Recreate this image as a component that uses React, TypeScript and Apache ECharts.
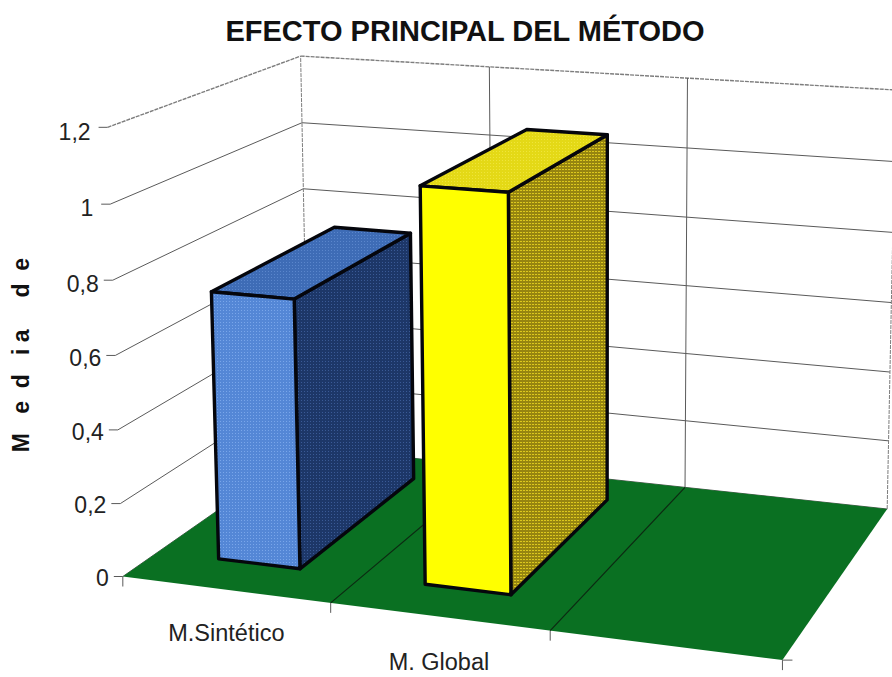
import React, { useEffect, useRef } from "react";
import * as echarts from "echarts";

const TITLE = "EFECTO PRINCIPAL DEL MÉTODO";
const VALUE_AXIS_NAME = "M   e  d   i a     d  e";
const categories = ["M.Sintético", "M. Global", ""];
const categoryLabelShift = [
  [1, 43],
  [0, 45],
  [0, 0],
];
const means = [0.735, 1.06];
const valueTicks = [0, 0.2, 0.4, 0.6, 0.8, 1, 1.2];
const tickLabels = ["0", "0,2", "0,4", "0,6", "0,8", "1", "1,2"];

const WIDTH = 892;
const HEIGHT = 677;
const Y_MAX = 1.2;
const BAR_HALF = 0.2;
const BAR_FRONT = 0.172;
const BAR_BACK = 0.848;
const FONT = '"Liberation Sans", Arial, sans-serif';

// Camera calibration: world (band, value, depth) -> page position of the box corners.
const calibration: number[][] = [
  [0, 0, 0, 125, 575],
  [1, 0, 0, 331, 603],
  [2, 0, 0, 549, 631],
  [3, 0, 0, 783, 661],
  [3, 0, 1, 888, 509],
  [0, 0, 1, 306, 447],
  [0, 0.6, 0, 116, 356],
  [0, 1.2, 0, 105, 127],
  [0, 1.2, 1, 301, 57],
  [1, 1.2, 1, 491, 67],
  [2, 1.2, 1, 691, 78],
  [3, 1.2, 1, 892, 89],
];

function solveCamera(rows: number[][]): number[] {
  const n = 11;
  const a: number[][] = Array.from({ length: n }, () => new Array(n + 1).fill(0));
  const addRow = (r: number[], b: number) => {
    for (let i = 0; i < n; i++) {
      for (let j = 0; j < n; j++) a[i][j] += r[i] * r[j];
      a[i][n] += r[i] * b;
    }
  };
  for (const [x, y, z, u, v] of rows) {
    addRow([x, y, z, 1, 0, 0, 0, 0, -u * x, -u * y, -u * z], u);
    addRow([0, 0, 0, 0, x, y, z, 1, -v * x, -v * y, -v * z], v);
  }
  for (let c = 0; c < n; c++) {
    let p = c;
    for (let r = c + 1; r < n; r++) if (Math.abs(a[r][c]) > Math.abs(a[p][c])) p = r;
    [a[c], a[p]] = [a[p], a[c]];
    for (let r = 0; r < n; r++) {
      if (r === c) continue;
      const f = a[r][c] / a[c][c];
      for (let k = c; k <= n; k++) a[r][k] -= f * a[c][k];
    }
  }
  return a.map((row, i) => row[n] / row[i]);
}

const cam = solveCamera(calibration);
const project = (x: number, y: number, z: number): number[] => {
  const w = cam[8] * x + cam[9] * y + cam[10] * z + 1;
  return [
    (cam[0] * x + cam[1] * y + cam[2] * z + cam[3]) / w,
    (cam[4] * x + cam[5] * y + cam[6] * z + cam[7]) / w,
  ];
};

// The hidden grid fills the page, so its scales give band and value positions.
const toWorld = (api: any, band: number, value: number): number[] => {
  const [gx, gy] = api.coord([band, value]);
  return [(gx / WIDTH) * categories.length, ((HEIGHT - gy) / HEIGHT) * Y_MAX];
};

function stipple(base: string, dot: string, dotWidth = 1): any {
  const c = document.createElement("canvas");
  c.width = 3;
  c.height = 3;
  const g = c.getContext("2d")!;
  g.fillStyle = base;
  g.fillRect(0, 0, 3, 3);
  g.fillStyle = dot;
  g.fillRect(1, 1, dotWidth, 1);
  return { image: c, repeat: "repeat" };
}

const line = (a: number[], b: number[], stroke: string, lineWidth = 1, lineDash?: number[]) => ({
  type: "line",
  shape: { x1: a[0], y1: a[1], x2: b[0], y2: b[1] },
  style: { stroke, lineWidth, lineDash, fill: null },
  silent: true,
});

export default function App() {
  const ref = useRef<HTMLDivElement>(null);
  useEffect(() => {
    const chart = echarts.init(ref.current!, null, { renderer: "svg", width: WIDTH, height: HEIGHT });
    const skins = [
      {
        front: stipple("#5487d6", "#79a6ea"),
        top: stipple("#3e6cb6", "#5a86cc"),
        side: stipple("#1d3768", "#3a5a96"),
      },
      {
        front: "#ffff00",
        top: stipple("#e4d916", "#efe53a"),
        side: stipple("#968510", "#dcc81e", 2),
      },
    ];
    chart.setOption({
      animation: false,
      backgroundColor: "#ffffff",
      title: {
        text: TITLE,
        left: 460,
        top: 11,
        textAlign: "center",
        textStyle: { fontFamily: FONT, fontSize: 29, fontWeight: "bold", color: "#111111" },
      },
      grid: { left: 0, right: 0, top: 0, bottom: 0 },
      xAxis: { type: "category", data: categories, show: false },
      yAxis: { type: "value", min: 0, max: Y_MAX, show: false },
      graphic: [
        {
          type: "text",
          x: 21,
          y: 355,
          rotation: Math.PI / 2,
          style: {
            text: VALUE_AXIS_NAME,
            font: `bold 23px ${FONT}`,
            fill: "#111111",
            align: "center",
            verticalAlign: "middle",
          },
        },
      ],
      series: [
        {
          // Wall gridlines, value ticks and their labels
          type: "custom",
          coordinateSystem: "cartesian2d",
          silent: true,
          clip: false,
          z: 1,
          data: valueTicks.map((v, i) => [0, v, i]),
          renderItem: (_: any, api: any) => {
            const [, y] = toWorld(api, 0, api.value(1));
            const i = api.value(2);
            const isTop = i === valueTicks.length - 1;
            const front = project(0, y, 0);
            const corner = project(0, y, 1);
            const end = project(3, y, 1);
            const colour = isTop ? "#7d7d7d" : "#5a5a5a";
            const dash = isTop ? [4, 1] : undefined;
            return {
              type: "group",
              children: [
                line(front, corner, colour, isTop ? 1.4 : 1, dash),
                line(corner, end, colour, isTop ? 1.4 : 1, dash),
                line([front[0] - 9, front[1]], front, "#5a5a5a"),
                {
                  type: "text",
                  x: front[0] - (y >= 1 ? 17 : 14),
                  y: front[1] + 1 + y * 3,
                  silent: true,
                  style: {
                    text: tickLabels[i],
                    font: `23px ${FONT}`,
                    fill: "#222222",
                    align: "right",
                    verticalAlign: "middle",
                  },
                },
              ],
            };
          },
        },
        {
          // Floor sheet
          type: "custom",
          coordinateSystem: "cartesian2d",
          silent: true,
          clip: false,
          z: 2,
          data: [[0, 0]],
          renderItem: () => ({
            type: "polygon",
            silent: true,
            shape: { points: [project(0, 0, 0), project(3, 0, 0), project(3, 0, 1), project(0, 0, 1)] },
            style: { fill: "#0a7022", stroke: null },
          }),
        },
        {
          // Band boundaries: floor line, back wall line, tick and category label
          type: "custom",
          coordinateSystem: "cartesian2d",
          silent: true,
          clip: false,
          z: 3,
          data: [0, 1, 2, 3],
          renderItem: (_: any, api: any) => {
            const b = api.value(0);
            const near = project(b, 0, 0);
            const far = project(b, 0, 1);
            const up = project(b, Y_MAX, 1);
            const edge = b === 0 || b === 3;
            const children: any[] = [
              line(far, up, edge ? "#7d7d7d" : "#5a5a5a", 1, edge ? [4, 1] : undefined),
              line(near, [near[0], near[1] + 10], "#5a5a5a"),
            ];
            if (!edge) children.push(line(near, far, "#0c2a12", 1.2));
            if (b === 3) children.push(line(near, [near[0] + 10, near[1]], "#5a5a5a"));
            if (b < categories.length && categories[b]) {
              const mid = toWorld(api, b, 0);
              const p = project(mid[0], 0, 0);
              children.push({
                type: "text",
                x: p[0] + categoryLabelShift[b][0],
                y: p[1] + categoryLabelShift[b][1],
                silent: true,
                style: {
                  text: categories[b],
                  font: `23.5px ${FONT}`,
                  fill: "#222222",
                  align: "center",
                  verticalAlign: "middle",
                },
              });
            }
            return { type: "group", children };
          },
        },
        {
          // Bars: front, top and right faces
          type: "custom",
          coordinateSystem: "cartesian2d",
          silent: true,
          clip: false,
          z: 4,
          data: means.map((m, i) => [i, m]),
          renderItem: (params: any, api: any) => {
            const [cx, h] = toWorld(api, api.value(0), api.value(1));
            const skin = skins[params.dataIndex];
            const l = cx - BAR_HALF;
            const r = cx + BAR_HALF;
            const face = (pts: number[][], fill: any) => ({
              type: "polygon",
              silent: true,
              shape: { points: pts.map((q) => project(q[0], q[1], q[2])) },
              style: { fill, stroke: "#05060c", lineWidth: 3.4, lineJoin: "round" },
            });
            return {
              type: "group",
              children: [
                face([[r, 0, BAR_FRONT], [r, 0, BAR_BACK], [r, h, BAR_BACK], [r, h, BAR_FRONT]], skin.side),
                face([[l, h, BAR_FRONT], [r, h, BAR_FRONT], [r, h, BAR_BACK], [l, h, BAR_BACK]], skin.top),
                face([[l, 0, BAR_FRONT], [r, 0, BAR_FRONT], [r, h, BAR_FRONT], [l, h, BAR_FRONT]], skin.front),
              ],
            };
          },
        },
      ],
    });
    return () => chart.dispose();
  }, []);
  return <div ref={ref} style={{ position: "fixed", left: 0, top: 0, width: WIDTH, height: HEIGHT }} />;
}
